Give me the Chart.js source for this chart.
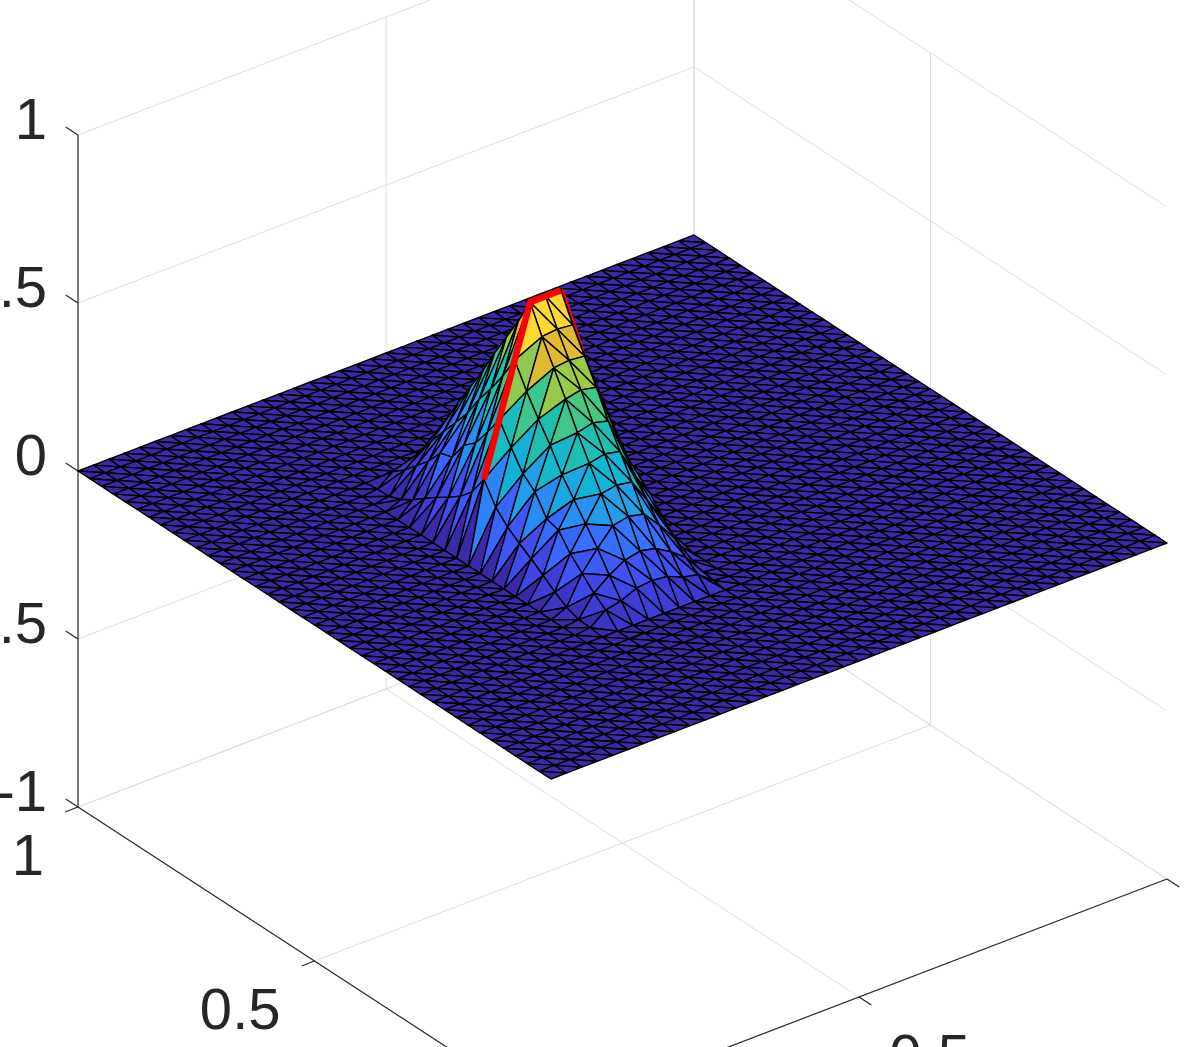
<!DOCTYPE html>
<html>
<head>
<meta charset="utf-8">
<title>surface</title>
<script src="https://cdn.jsdelivr.net/npm/chart.js@4"></script>
<style>
  html, body { margin: 0; padding: 0; background: #fff; overflow: hidden; }
  #box { width: 1196px; height: 1047px; }
  canvas { filter: blur(0.45px); }
</style>
</head>
<body>
<div id="box"><canvas id="surface" width="1196" height="1047"></canvas></div>
<script>
// ---------------------------------------
// values
const gridCells = 40;
const tickValues = [0.5, 1];
const tickLabels = ["0.5", "1"];
const zTicks = [-1, -0.5, 0, 0.5, 1];
const zTickLabels = ["-1", "-0.5", "0", "0.5", "1"];

// heights of the bump, rows are grid lines j = 11..29, columns i = 10..20
const peakFirstI = 10;
const peakFirstJ = 11;
const peakHeights = [
  [0, 0.005, 0.04, 0.05, 0.07, 0.075, 0.07, 0.05, 0.04, 0.005, 0],
  [0, 0.006, 0.067, 0.103, 0.13, 0.14, 0.13, 0.103, 0.067, 0.006, 0],
  [0, 0.02, 0.103, 0.16, 0.21, 0.22, 0.21, 0.16, 0.103, 0.02, 0],
  [0, 0.042, 0.139, 0.21, 0.282, 0.29, 0.282, 0.21, 0.139, 0.042, 0],
  [0, 0.069, 0.186, 0.26, 0.35, 0.36, 0.35, 0.26, 0.186, 0.069, 0],
  [0, 0.095, 0.197, 0.31, 0.418, 0.43, 0.418, 0.31, 0.197, 0.095, 0],
  [0, 0.118, 0.255, 0.375, 0.495, 0.505, 0.495, 0.375, 0.255, 0.118, 0],
  [0, 0.144, 0.285, 0.43, 0.565, 0.57, 0.565, 0.43, 0.285, 0.144, 0],
  [0, 0.18, 0.34, 0.49, 0.635, 0.64, 0.635, 0.49, 0.34, 0.18, 0],
  [0, 0.24, 0.40, 0.56, 0.715, 0.715, 0.715, 0.56, 0.40, 0.24, 0],
  [0, 0.18, 0.34, 0.49, 0.635, 0.64, 0.635, 0.49, 0.34, 0.18, 0],
  [0, 0.144, 0.285, 0.43, 0.565, 0.57, 0.565, 0.43, 0.285, 0.144, 0],
  [0, 0.118, 0.255, 0.375, 0.495, 0.505, 0.495, 0.375, 0.255, 0.118, 0],
  [0, 0.095, 0.197, 0.31, 0.418, 0.43, 0.418, 0.31, 0.197, 0.095, 0],
  [0, 0.069, 0.186, 0.26, 0.35, 0.36, 0.35, 0.26, 0.186, 0.069, 0],
  [0, 0.042, 0.139, 0.21, 0.282, 0.29, 0.282, 0.21, 0.139, 0.042, 0],
  [0, 0.02, 0.103, 0.16, 0.21, 0.22, 0.21, 0.16, 0.103, 0.02, 0],
  [0, 0.006, 0.067, 0.103, 0.13, 0.14, 0.13, 0.103, 0.067, 0.006, 0],
  [0, 0.005, 0.04, 0.05, 0.07, 0.075, 0.07, 0.05, 0.04, 0.005, 0],
];

// the slice drawn in red runs along grid line j = 20
const sliceJ = 20;
const sliceFrontI = [11, 12, 13, 14, 15, 16];
const sliceBackI = [16, 17, 18, 19];

const zMax = 0.715;
const colorStops = ["#3b2aa8", "#3e3ed8", "#4055f5", "#3273ff", "#22a0e8", "#10b6d2", "#1fbfb0", "#42c787", "#9fca41", "#e8b930", "#fcd92e"];

const gridColor = "#dedede";
const axisColor = "#262626";
const textColor = "#262626";
// ---------------------------------------

// orthographic view of the box, in scale units
const view = { x0: 551, y0: 779, ux: 616, uy: -236, vx: -473, vy: -308, zy: -336 };
const project = (u, v, z) => ({
  x: view.x0 + u * view.ux + v * view.vx,
  y: view.y0 + u * view.uy + v * view.vy + z * view.zy,
});

const heightAt = (i, j) => {
  const row = peakHeights[j - peakFirstJ];
  if (!row) return 0;
  const value = row[i - peakFirstI];
  return value === undefined ? 0 : value;
};

const node = (i, j) => project(i / gridCells, j / gridCells, heightAt(i, j));

const hexToRgb = (hex) => [1, 3, 5].map((k) => parseInt(hex.slice(k, k + 2), 16));

const faceColor = (z) => {
  const t = Math.min(Math.max(z / zMax, 0), 1) * (colorStops.length - 1);
  const k = Math.min(Math.floor(t), colorStops.length - 2);
  const a = hexToRgb(colorStops[k]);
  const b = hexToRgb(colorStops[k + 1]);
  const c = a.map((va, n) => Math.round(va + (b[n] - va) * (t - k)));
  return `rgb(${c[0]},${c[1]},${c[2]})`;
};

const lineSet = (points, color, width) => ({
  data: points,
  showLine: true,
  fill: false,
  borderColor: color,
  borderWidth: width,
  borderJoinStyle: "miter",
  pointRadius: 0,
  tension: 0,
});

// flat shading: a face takes the colour of its last vertex
const triangle = (a, b, c) => {
  const first = node(a[0], a[1]);
  return {
    data: [first, node(b[0], b[1]), node(c[0], c[1]), first],
    showLine: true,
    fill: "shape",
    backgroundColor: faceColor(heightAt(c[0], c[1])),
    borderColor: "#000000",
    borderWidth: 1.4,
    borderJoinStyle: "round",
    pointRadius: 0,
    tension: 0,
  };
};

// Chart.js paints the first dataset last, so the list goes from near to far
const buildDatasets = () => {
  const sets = [];

  sets.push(lineSet(sliceFrontI.map((i) => node(i, sliceJ)), "#ff0000", 6.5));

  for (let j = 0; j < gridCells; j++) {
    if (j === sliceJ) {
      sets.push(lineSet(sliceBackI.map((i) => node(i, sliceJ)), "#ff0000", 6.5));
    }
    for (let i = 0; i < gridCells; i++) {
      sets.push(triangle([i, j], [i + 1, j], [i, j + 1]));
      sets.push(triangle([i + 1, j], [i, j + 1], [i + 1, j + 1]));
    }
  }

  // axes
  const axis = (a, b) => sets.push(lineSet([project(...a), project(...b)], axisColor, 1.2));
  axis([0, 1, -1], [0, 1, 1]);
  axis([0, 0, -1], [0, 1, -1]);
  axis([0, 0, -1], [1, 0, -1]);
  zTicks.forEach((z) => axis([0, 1, z], [0, 1.026, z]));
  tickValues.forEach((t) => {
    axis([0, t, -1], [-0.021, t, -1]);
    axis([t, 0, -1], [t, -0.026, -1]);
  });

  // grid lines on the floor and the two back walls
  const grid = (a, b) => sets.push(lineSet([project(...a), project(...b)], gridColor, 1));
  tickValues.forEach((t) => {
    grid([t, 0, -1], [t, 1, -1]);
    grid([0, t, -1], [1, t, -1]);
    grid([t, 1, -1], [t, 1, 1]);
    grid([1, t, -1], [1, t, 1]);
  });
  zTicks.forEach((z) => {
    grid([0, 1, z], [1, 1, z]);
    grid([1, 1, z], [1, 0, z]);
  });

  return sets;
};

const tickText = {
  id: "tickText",
  afterDatasetsDraw(chart) {
    const ctx = chart.ctx;
    const xs = chart.scales.x;
    const ys = chart.scales.y;
    ctx.save();
    ctx.font = '58px "Liberation Sans"';
    ctx.fillStyle = textColor;
    ctx.textBaseline = "middle";
    ctx.textAlign = "right";
    zTicks.forEach((z, n) => {
      const p = project(0, 1, z);
      ctx.fillText(zTickLabels[n], xs.getPixelForValue(p.x) - 31, ys.getPixelForValue(p.y) - 12);
    });
    tickValues.forEach((t, n) => {
      const a = project(0, t, -1);
      ctx.fillText(tickLabels[n], xs.getPixelForValue(a.x) - 34, ys.getPixelForValue(a.y) + 52);
      const b = project(t, 0, -1);
      ctx.fillText(tickLabels[n], xs.getPixelForValue(b.x) + 111, ys.getPixelForValue(b.y) + 62);
    });
    ctx.restore();
  },
};

new Chart(document.getElementById("surface"), {
  type: "scatter",
  data: { datasets: buildDatasets() },
  plugins: [tickText],
  options: {
    responsive: false,
    animation: false,
    normalized: true,
    events: [],
    layout: { padding: 0 },
    plugins: { legend: { display: false }, tooltip: { enabled: false } },
    scales: {
      x: { type: "linear", min: 0, max: 1196, display: false },
      y: { type: "linear", min: 0, max: 1047, reverse: true, display: false },
    },
  },
});
</script>
</body>
</html>
